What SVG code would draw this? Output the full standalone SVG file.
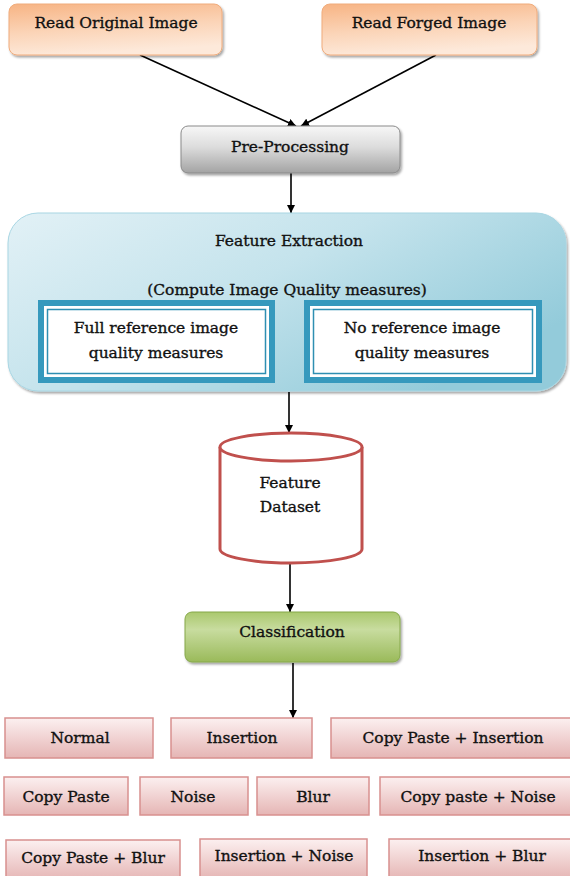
<svg xmlns="http://www.w3.org/2000/svg" width="570" height="876" viewBox="0 0 570 876">
  <defs>
    <linearGradient id="gOrange" x1="0" y1="0" x2="0.25" y2="1">
      <stop offset="0" stop-color="#f7b484"/>
      <stop offset="0.55" stop-color="#fbd4b7"/>
      <stop offset="1" stop-color="#fde9da"/>
    </linearGradient>
    <linearGradient id="gGray" x1="0" y1="0" x2="0" y2="1">
      <stop offset="0" stop-color="#f7f7f7"/>
      <stop offset="0.45" stop-color="#dcdcdc"/>
      <stop offset="1" stop-color="#a3a3a3"/>
    </linearGradient>
    <linearGradient id="gBlue" x1="0" y1="0" x2="1" y2="0.6">
      <stop offset="0" stop-color="#e2f1f6"/>
      <stop offset="0.5" stop-color="#c4e3ec"/>
      <stop offset="1" stop-color="#93cbda"/>
    </linearGradient>
    <linearGradient id="gGreen" x1="0" y1="0" x2="0" y2="1">
      <stop offset="0" stop-color="#aac86d"/>
      <stop offset="0.35" stop-color="#c8dc9f"/>
      <stop offset="1" stop-color="#9aba5a"/>
    </linearGradient>
    <linearGradient id="gPink" x1="0" y1="0" x2="0" y2="1">
      <stop offset="0" stop-color="#fcf0f0"/>
      <stop offset="1" stop-color="#e5b5b4"/>
    </linearGradient>
    <filter id="shadow" x="-5%" y="-10%" width="115%" height="130%">
      <feDropShadow dx="1.5" dy="2" stdDeviation="1.2" flood-color="#000" flood-opacity="0.35"/>
    </filter>
    <marker id="arrow" viewBox="0 0 10 10" refX="10" refY="5" markerWidth="8" markerHeight="8" markerUnits="userSpaceOnUse" orient="auto">
      <path d="M0,0 L10,5 L0,10 z" fill="#000"/>
    </marker>
  </defs>
  <style>
    text { font-family: "DejaVu Serif", "Liberation Serif", serif; font-size: 15.5px; fill: #111; stroke: #111; stroke-width: 0.35; text-anchor: middle; }
    .orange { fill: url(#gOrange); stroke: #f0ac7c; stroke-width: 1; filter: url(#shadow); }
    .gray { fill: url(#gGray); stroke: #8a8a8a; stroke-width: 1; filter: url(#shadow); }
    .blue { fill: url(#gBlue); stroke: #a8d6e3; stroke-width: 1; filter: url(#shadow); }
    .band { fill: #3699bd; }
    .gap { fill: #ffffff; }
    .inner { fill: #ffffff; stroke: #2f8fb2; stroke-width: 1.5; }
    .cyl { fill: #ffffff; stroke: #c0504d; stroke-width: 3; }
    .green { fill: url(#gGreen); stroke: #86a84a; stroke-width: 1; filter: url(#shadow); }
    .pink { fill: url(#gPink); stroke: #d8908f; stroke-width: 1.5; }
    .conn { stroke: #000; stroke-width: 1.6; fill: none; marker-end: url(#arrow); }
  </style>

  <rect width="570" height="876" fill="#ffffff"/>

  <!-- connectors -->
  <g id="connectors">
    <line class="conn" x1="140" y1="55" x2="296" y2="126"/>
    <line class="conn" x1="436" y1="55" x2="301" y2="126"/>
    <line class="conn" x1="291" y1="173" x2="291" y2="213"/>
    <line class="conn" x1="289" y1="392" x2="289" y2="433"/>
    <line class="conn" x1="290" y1="563" x2="290" y2="612"/>
    <line class="conn" x1="293" y1="663" x2="293" y2="718"/>
  </g>

  <!-- inputs -->
  <g id="read-original">
    <rect class="orange" x="9" y="4" width="213" height="51" rx="8"/>
    <text x="116" y="28">Read Original Image</text>
  </g>
  <g id="read-forged">
    <rect class="orange" x="322" y="4" width="215" height="51" rx="8"/>
    <text x="429" y="28">Read Forged Image</text>
  </g>

  <g id="pre-processing">
    <rect class="gray" x="181" y="126" width="219" height="47" rx="7"/>
    <text x="290" y="152">Pre-Processing</text>
  </g>

  <!-- feature extraction with its two measure groups -->
  <g id="feature-extraction">
    <rect class="blue" x="8" y="213" width="558" height="178" rx="30"/>
    <text x="289" y="246">Feature Extraction</text>
    <text x="287" y="295">(Compute Image Quality measures)</text>
  </g>
  <g id="full-reference">
    <rect class="band" x="38" y="300" width="237" height="83"/>
    <rect class="gap" x="44" y="306" width="225" height="71"/>
    <rect class="inner" x="47.5" y="309.5" width="218" height="64"/>
    <text x="156" y="333">Full reference image</text>
    <text x="156" y="358">quality measures</text>
  </g>
  <g id="no-reference">
    <rect class="band" x="304" y="300" width="238" height="83"/>
    <rect class="gap" x="310" y="306" width="226" height="71"/>
    <rect class="inner" x="313.5" y="309.5" width="219" height="64"/>
    <text x="422" y="333">No reference image</text>
    <text x="422" y="358">quality measures</text>
  </g>

  <g id="feature-dataset">
    <path class="cyl" d="M220,447 V549 A71,14 0 0 0 362,549 V447"/>
    <ellipse class="cyl" cx="291" cy="447" rx="71" ry="14"/>
    <text x="290" y="488">Feature</text>
    <text x="290" y="512">Dataset</text>
  </g>

  <g id="classification">
    <rect class="green" x="185" y="612" width="215" height="50" rx="7"/>
    <text x="292" y="637">Classification</text>
  </g>

  <!-- output classes -->
  <g id="class-normal">
    <rect class="pink" x="5" y="718" width="148" height="40"/>
    <text x="80" y="743">Normal</text>
  </g>
  <g id="class-insertion">
    <rect class="pink" x="171" y="718" width="141" height="40"/>
    <text x="242" y="743">Insertion</text>
  </g>
  <g id="class-copypaste-insertion">
    <rect class="pink" x="331" y="718" width="245" height="40"/>
    <text x="453" y="743">Copy Paste + Insertion</text>
  </g>
  <g id="class-copypaste">
    <rect class="pink" x="4" y="777" width="124" height="38"/>
    <text x="66" y="802">Copy Paste</text>
  </g>
  <g id="class-noise">
    <rect class="pink" x="140" y="777" width="108" height="38"/>
    <text x="193" y="802">Noise</text>
  </g>
  <g id="class-blur">
    <rect class="pink" x="257" y="777" width="112" height="38"/>
    <text x="313" y="802">Blur</text>
  </g>
  <g id="class-copypaste-noise">
    <rect class="pink" x="380" y="777" width="196" height="38"/>
    <text x="478" y="802">Copy paste + Noise</text>
  </g>
  <g id="class-copypaste-blur">
    <rect class="pink" x="6" y="840" width="174" height="40"/>
    <text x="93" y="863">Copy Paste + Blur</text>
  </g>
  <g id="class-insertion-noise">
    <rect class="pink" x="200" y="839" width="167" height="40"/>
    <text x="284" y="861">Insertion + Noise</text>
  </g>
  <g id="class-insertion-blur">
    <rect class="pink" x="389" y="839" width="187" height="40"/>
    <text x="482" y="861">Insertion + Blur</text>
  </g>
</svg>
